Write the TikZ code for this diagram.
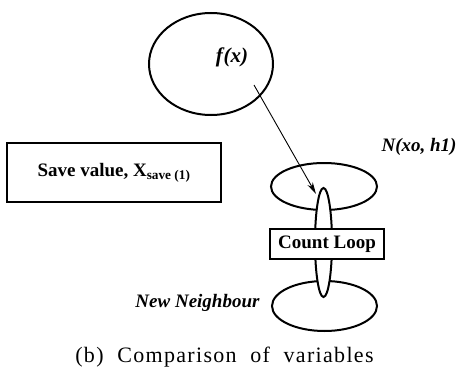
\documentclass[tikz,border=0pt]{standalone}
\usepackage{fontspec}
\setmainfont{Liberation Serif}
\newfontfamily\capfont[LetterSpace=6]{Liberation Serif}
\usetikzlibrary{shapes.geometric,arrows.meta}
\begin{document}
\begin{tikzpicture}[x=1pt,y=-1pt,
  ell/.style={draw,ellipse,line width=2pt,inner sep=0pt},
  boxnode/.style={draw,rectangle,line width=2pt,fill=white,inner sep=0pt},
  lbl/.style={font=\bfseries\itshape\fontsize{19}{21}\selectfont,inner sep=0pt},
  conn/.style={line width=0.9pt,-{Stealth[length=12pt,width=6pt]}}]
\useasboundingbox (0,0) rectangle (458,372);
\node[ell,minimum width=124pt,minimum height=102pt] (fx) at (211,64) {};
\node[font=\bfseries\itshape\fontsize{21}{24}\selectfont,inner sep=0pt] (fxl) at (232,57) {f\kern1pt(x)};
\node[boxnode,minimum width=214pt,minimum height=59pt] (save) at (114,172.5)
  {\bfseries\fontsize{19}{21}\selectfont Save value, X\textsubscript{save (1)}};
\node[lbl] (nlab) at (419,147) {N(xo, h1)};
\node[ell,minimum width=106pt,minimum height=47pt] (up) at (324,186.5) {};
\node[ell,minimum width=105pt,minimum height=50pt] (low) at (324.5,306) {};
\node[ell,fill=white,minimum width=17pt,minimum height=109pt] (thin) at (323.5,242.5) {};
\node[boxnode,minimum width=114pt,minimum height=30pt] (cl) at (327,244)
  {\bfseries\fontsize{19}{21}\selectfont Count Loop};
\node[lbl] (nn) at (197.5,303) {New Neighbour};
\coordinate (a0) at (254,85);
\coordinate (tip) at (316,194);
\draw[conn] (a0) -- (tip);
\node[font=\capfont\fontsize{22}{25}\selectfont,inner sep=0pt] (cap) at (224.5,357)
  {(b)\ \ Comparison\ \ of\ \ variables};
\end{tikzpicture}
\end{document}
